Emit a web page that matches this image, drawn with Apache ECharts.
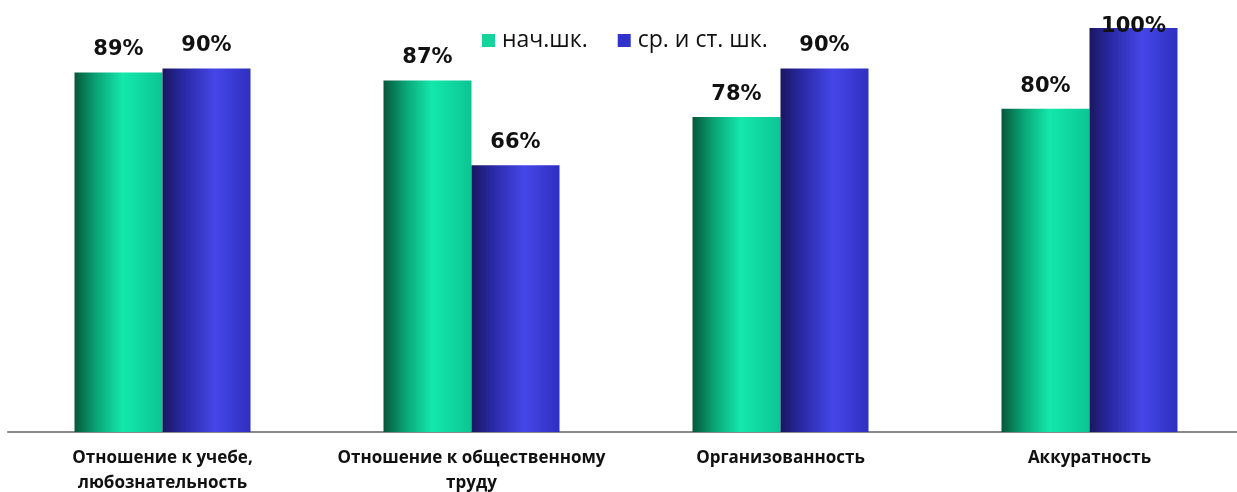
<!DOCTYPE html>
<html>
<head>
<meta charset="utf-8">
<script src="https://cdn.jsdelivr.net/npm/echarts@6/dist/echarts.min.js"></script>
<style>
  html, body { margin: 0; padding: 0; background: #fff; }
  #chart { width: 1237px; height: 492px; }
</style>
</head>
<body>
<div id="chart"></div>
<script>
// данные
const categories = [
  'Отношение к учебе,\nлюбознательность',
  'Отношение к общественному\nтруду',
  'Организованность',
  'Аккуратность'
]
const seriesNames = ['нач.шк.', 'ср. и ст. шк.']
const primaryValues = [89, 87, 78, 80]
const secondaryValues = [90, 66, 90, 100]

const greenGrad = new echarts.graphic.LinearGradient(0, 0, 1, 0, [
  { offset: 0, color: '#06573a' },
  { offset: 0.25, color: '#0aa577' },
  { offset: 0.55, color: '#14e8ac' },
  { offset: 1, color: '#0bc593' }
])
const blueGrad = new echarts.graphic.LinearGradient(0, 0, 1, 0, [
  { offset: 0, color: '#1a1760' },
  { offset: 0.25, color: '#2a2aa8' },
  { offset: 0.6, color: '#4646e8' },
  { offset: 1, color: '#2f2fc0' }
])

// подпись 100% не влезает сверху - опускаем её на столбец
const toData = arr => arr.map(v => v >= 100 ? { value: v, label: { offset: [0, 21] } } : v)

const labelStyle = {
  show: true,
  position: 'top',
  distance: 12,
  formatter: '{c}%',
  color: '#111',
  fontFamily: 'DejaVu Sans',
  fontWeight: 'bold',
  fontSize: 21
}

const chart = echarts.init(document.getElementById('chart'))
chart.setOption({
  animation: false,
  backgroundColor: '#fff',
  legend: {
    left: 477,
    top: 24,
    itemWidth: 13,
    itemHeight: 13,
    itemGap: 30,
    icon: 'rect',
    textStyle: { fontFamily: 'Open Sans', fontSize: 23, color: '#111', padding: [0, 0, 0, 2] },
    data: [
      { name: seriesNames[0], itemStyle: { color: '#14d49c' } },
      { name: seriesNames[1], itemStyle: { color: '#3333cc' } }
    ]
  },
  grid: { left: 8, top: 28, bottom: 60, width: 1236, outerBoundsMode: 'none' },
  xAxis: {
    type: 'category',
    data: categories,
    axisLine: { lineStyle: { color: '#8a8a8a', width: 2 } },
    axisTick: { show: false },
    axisLabel: {
      interval: 0,
      margin: 14,
      lineHeight: 25,
      color: '#111',
      fontFamily: 'Open Sans',
      fontWeight: 'bold',
      fontSize: 17
    }
  },
  yAxis: {
    type: 'value',
    min: 0,
    max: 100,
    show: false,
    splitLine: { show: false }
  },
  series: [
    {
      name: seriesNames[0],
      type: 'bar',
      barWidth: 88,
      barGap: '0%',
      itemStyle: { color: greenGrad },
      label: labelStyle,
      data: toData(primaryValues)
    },
    {
      name: seriesNames[1],
      type: 'bar',
      barWidth: 88,
      barGap: '0%',
      itemStyle: { color: blueGrad },
      label: labelStyle,
      data: toData(secondaryValues)
    }
  ]
})
</script>
</body>
</html>
